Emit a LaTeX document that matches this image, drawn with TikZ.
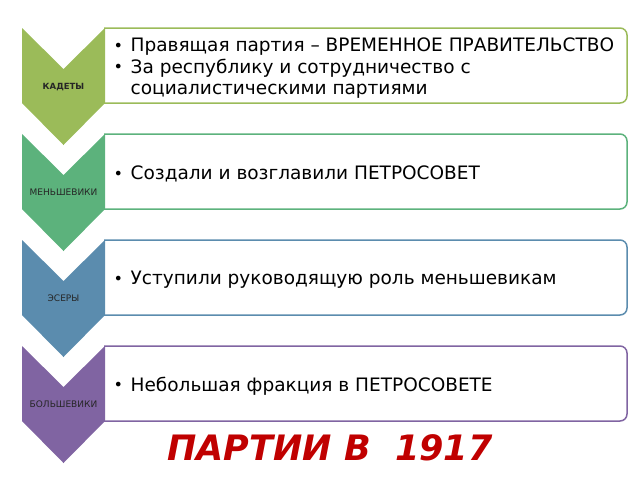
\documentclass[tikz,border=0pt]{standalone}
\usepackage{fontspec}
\setmainfont{DejaVu Sans}
\usepackage{tikz}

\definecolor{kadetCol}{HTML}{9BBB59}
\definecolor{menshCol}{HTML}{5CB27C}
\definecolor{eserCol}{HTML}{5B8CAE}
\definecolor{bolshCol}{HTML}{8064A2}
\definecolor{titleRed}{HTML}{C00000}

\newcommand{\itm}[1]{\makebox[17pt][l]{\fontsize{16}{16}\selectfont\raisebox{0.5pt}{•}}#1}

\begin{document}
\begin{tikzpicture}[x=1pt,y=-1pt,
    frame/.style={draw=#1,line width=1.5pt,rounded corners=7pt},
    lbl/.style={inner sep=0pt,text=black!85,font=\fontsize{9}{10}\selectfont},
    txt/.style={anchor=west,align=left,inner sep=0pt,font=\fontsize{18.5}{21.5}\selectfont}]
\useasboundingbox (0,0) rectangle (640,480);

% kadety
\draw[frame=kadetCol] (104,28) -- (627,28) -- (627,103) -- (104,103);
\fill[kadetCol] (22,28) -- (63.5,69) -- (105,28) -- (105,103) -- (63.5,145) -- (22,103) -- cycle;
\node[lbl,font=\fontsize{8.5}{10}\bfseries] (kadety) at (63.5,87) {КАДЕТЫ};
\node[txt] (kadetyTxt) at (113.5,68.5) {\itm{Правящая партия – ВРЕМЕННОЕ ПРАВИТЕЛЬСТВО}\\
    \itm{За республику и сотрудничество с}\\
    \hspace*{17pt}социалистическими партиями};

% mensheviki
\draw[frame=menshCol] (104,134) -- (627,134) -- (627,209) -- (104,209);
\fill[menshCol] (22,134) -- (63.5,175) -- (105,134) -- (105,209) -- (63.5,251) -- (22,209) -- cycle;
\node[lbl] (mensheviki) at (63.5,192) {МЕНЬШЕВИКИ};
\node[txt] (menshevikiTxt) at (113.5,174) {\itm{Создали и возглавили ПЕТРОСОВЕТ}};

% esery
\draw[frame=eserCol] (104,240) -- (627,240) -- (627,315) -- (104,315);
\fill[eserCol] (22,240) -- (63.5,281) -- (105,240) -- (105,315) -- (63.5,357) -- (22,315) -- cycle;
\node[lbl] (esery) at (63.5,298) {ЭСЕРЫ};
\node[txt] (eseryTxt) at (113.5,280) {\itm{Уступили руководящую роль меньшевикам}};

% bolsheviki
\draw[frame=bolshCol] (104,346) -- (627,346) -- (627,421) -- (104,421);
\fill[bolshCol] (22,346) -- (63.5,387) -- (105,346) -- (105,421) -- (63.5,463) -- (22,421) -- cycle;
\node[lbl] (bolsheviki) at (63.5,404) {БОЛЬШЕВИКИ};
\node[txt] (bolshevikiTxt) at (113.5,386) {\itm{Небольшая фракция в ПЕТРОСОВЕТЕ}};

\node[anchor=base,inner sep=0pt,text=titleRed,font=\fontsize{35}{40}\bfseries\itshape] (title) at (330,460) {ПАРТИИ В\ \ 1917};
\end{tikzpicture}
\end{document}
